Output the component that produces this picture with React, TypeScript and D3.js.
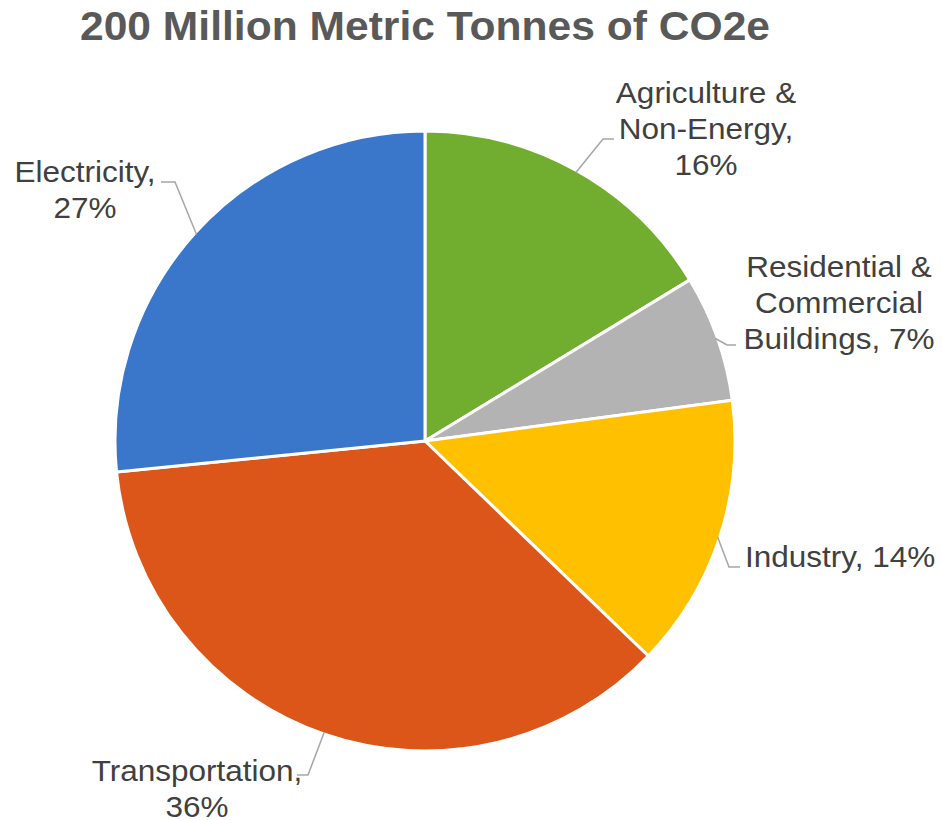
import React from "react";
import * as d3 from "d3";

const categories = [
  "Agriculture & Non-Energy",
  "Residential & Commercial Buildings",
  "Industry",
  "Transportation",
  "Electricity",
];
const values = [16.3, 6.6, 14.3, 36.2, 26.6];
const percentLabels = ["16%", "7%", "14%", "36%", "27%"];
const colors = ["#71AD2F", "#B3B3B3", "#FFC000", "#DC561A", "#3A76CA"];
const labelLines = [
  ["Agriculture &", "Non-Energy,", "16%"],
  ["Residential &", "Commercial", "Buildings, 7%"],
  ["Industry, 14%"],
  ["Transportation,", "36%"],
  ["Electricity,", "27%"],
];
const title = "200 Million Metric Tonnes of CO2e";

const W = 942;
const H = 820;
const cx = 425;
const cy = 441;
const R = 310;

const labelPos: { x: number; y: number; anchor: string }[] = [
  { x: 706, y: 103, anchor: "middle" },
  { x: 839, y: 277, anchor: "middle" },
  { x: 745, y: 567, anchor: "start" },
  { x: 197, y: 781, anchor: "middle" },
  { x: 85, y: 182, anchor: "middle" },
];
const leaderPts: [number, number][][] = [
  [[603, 139], [614, 139]],
  [[727, 345], [736, 345]],
  [[729, 567], [740, 567]],
  [[308, 775], [297, 775]],
  [[175, 182], [161, 182]],
];

export default function App() {
  const pie = d3
    .pie<number>()
    .sort(null)
    .value((d) => d);
  const arcs = pie(values);
  const arcGen = d3.arc<d3.PieArcDatum<number>>().innerRadius(0).outerRadius(R);
  const lineH = 36;
  const sx = 1.05;

  return (
    <svg width={W} height={H} style={{ position: "absolute", left: 0, top: 0 }}>
      <rect width={W} height={H} fill="#fff" />
      <text
        x={80}
        y={40}
        textLength={690}
        lengthAdjust="spacingAndGlyphs"
        fontFamily="Liberation Sans, Arial, sans-serif"
        fontWeight="bold"
        fontSize={41}
        fill="#595959"
      >
        {title}
      </text>
      <g transform={`translate(${cx},${cy})`}>
        {arcs.map((a, i) => (
          <path key={categories[i]} d={arcGen(a) || ""} fill={colors[i]} stroke="#fff" strokeWidth={3} strokeLinejoin="round" />
        ))}
      </g>
      {arcs.map((a, i) => {
        const mid = (a.startAngle + a.endAngle) / 2;
        const px = cx + Math.sin(mid) * (R - 2);
        const py = cy - Math.cos(mid) * (R - 2);
        const pts = [[px, py], ...leaderPts[i]];
        return (
          <polyline
            key={"l" + i}
            points={pts.map((p) => p.join(",")).join(" ")}
            fill="none"
            stroke="#A6A6A6"
            strokeWidth={1.5}
          />
        );
      })}
      {labelLines.map((lines, i) => (
        <text
          key={"t" + i}
          transform={`translate(${labelPos[i].x},${labelPos[i].y}) scale(${sx},1)`}
          textAnchor={labelPos[i].anchor}
          fontFamily="Liberation Sans, Arial, sans-serif"
          fontSize={30}
          fill="#404040"
        >
          {lines.map((ln, j) => (
            <tspan key={j} x={0} dy={j === 0 ? 0 : lineH}>
              {ln}
            </tspan>
          ))}
        </text>
      ))}
    </svg>
  );
}
